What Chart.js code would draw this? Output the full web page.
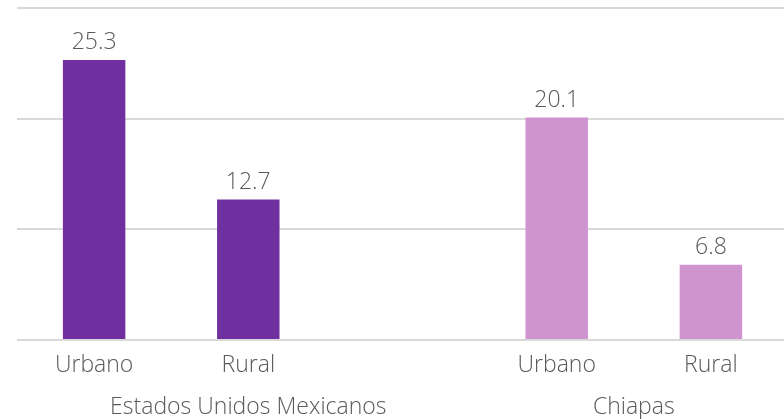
<!DOCTYPE html>
<html>
<head>
<meta charset="utf-8">
<script src="https://cdn.jsdelivr.net/npm/chart.js@4/dist/chart.umd.min.js"></script>
<style>
  html, body { margin: 0; padding: 0; background: #fff; overflow: hidden; }
  #wrap { width: 788px; height: 419px; }
</style>
</head>
<body>
<div id="wrap"><canvas id="chart"></canvas></div>
<script>
// categorías (la ranura vacía separa los dos grupos)
const categories = ['Urbano', 'Rural', '', 'Urbano', 'Rural'];
const values = [25.3, 12.7, null, 20.1, 6.8];
const barColors = ['#7030A0', '#7030A0', '#7030A0', '#CF93CF', '#CF93CF'];
const groups = ['Estados Unidos Mexicanos', 'Chiapas'];
const groupFrom = [0, 3];
const groupTo = [2, 4];
const yTicks = [0, 10, 20, 30];

const textColor = '#595959';
const fontFamily = '"Open Sans", sans-serif';
const fontSize = 23;

// etiquetas de valor sobre cada barra
const valueLabels = {
    id: 'valueLabels',
    afterDatasetsDraw(chart) {
        const ctx = chart.ctx;
        const meta = chart.getDatasetMeta(0);
        ctx.save();
        ctx.fillStyle = textColor;
        ctx.font = '300 ' + fontSize + 'px ' + fontFamily;
        ctx.textAlign = 'center';
        ctx.textBaseline = 'bottom';
        meta.data.forEach((bar, i) => {
            if (values[i] === null) return;
            ctx.fillText(values[i].toFixed(1), bar.x, bar.y - 6);
        });
        ctx.restore();
    }
};

// etiquetas de grupo bajo el eje
const groupLabels = {
    id: 'groupLabels',
    afterDraw(chart) {
        const ctx = chart.ctx;
        const x = chart.scales.x;
        ctx.save();
        ctx.fillStyle = textColor;
        ctx.font = '300 ' + fontSize + 'px ' + fontFamily;
        ctx.textAlign = 'center';
        ctx.textBaseline = 'middle';
        groups.forEach((name, i) => {
            const cx = (x.getPixelForValue(groupFrom[i]) + x.getPixelForValue(groupTo[i])) / 2;
            ctx.fillText(name, cx, 407);
        });
        ctx.restore();
    }
};

new Chart(document.getElementById('chart'), {
    type: 'bar',
    data: {
        labels: categories,
        datasets: [{
            data: values,
            backgroundColor: barColors,
            barPercentage: 0.405,
            categoryPercentage: 1
        }]
    },
    options: {
        responsive: true,
        maintainAspectRatio: false,
        animation: false,
        layout: { padding: { top: 8, left: 0, right: 0, bottom: 0 } },
        plugins: {
            legend: { display: false },
            tooltip: { enabled: false }
        },
        scales: {
            x: {
                grid: { display: false, drawTicks: false },
                border: { display: false },
                ticks: {
                    color: textColor,
                    font: { family: fontFamily, size: fontSize, weight: 300 },
                    padding: 12,
                    maxRotation: 0
                },
                afterFit: s => { s.height = 79; }
            },
            y: {
                min: 0,
                max: 30,
                afterBuildTicks: s => { s.ticks = yTicks.map(v => ({ value: v })); },
                grid: { color: '#D9D9D9', lineWidth: 2, drawTicks: false },
                border: { display: false },
                ticks: { display: false },
                afterFit: s => { s.width = 17; }
            }
        }
    },
    plugins: [valueLabels, groupLabels]
});
</script>
</body>
</html>
